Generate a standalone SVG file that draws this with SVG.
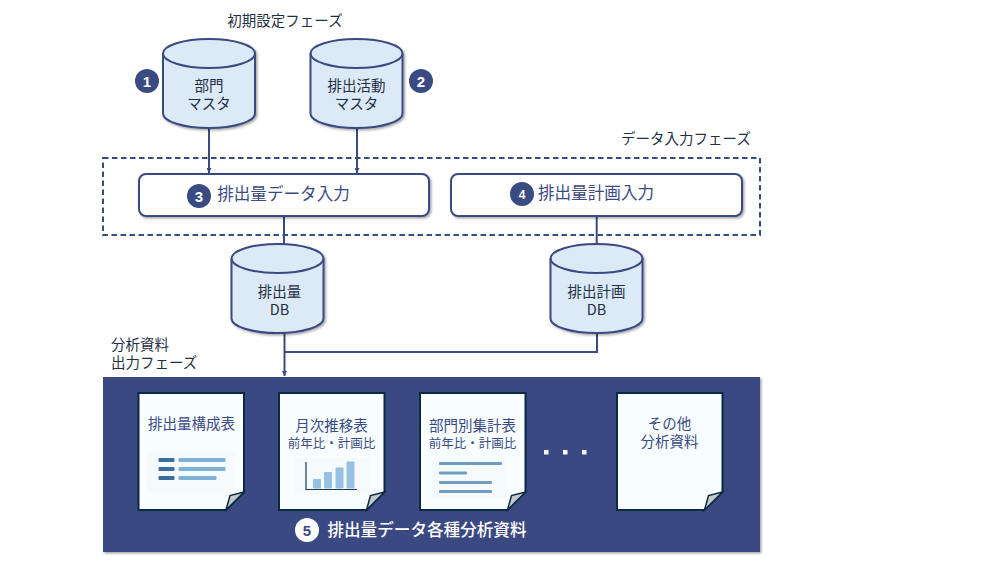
<svg xmlns="http://www.w3.org/2000/svg" width="1000" height="563" viewBox="0 0 1000 563">
<style>
text{font-family:"Noto Sans CJK JP","Liberation Sans",sans-serif;text-anchor:middle}
.t{font-size:14.500px;fill:#1f2f45}
.l{font-size:14.500px;fill:#1f2f45;text-anchor:start}
.b{font-size:16.600px;fill:#3a4a82}
.d{font-size:14.500px;fill:#3a4a82}
.s{font-size:12.500px;fill:#3a4a82}
.n{font-family:"Liberation Sans",sans-serif;font-weight:bold;font-size:15px;fill:#fff}
.cyl{fill:#dce9f6;stroke:#3a4a82;stroke-width:2}
.doc{fill:#f8fdff;stroke:#0b2a3e;stroke-width:2}
.fold{fill:#c3cace;stroke:#0b2a3e;stroke-width:1.500}
.con{fill:none;stroke:#3a4a82;stroke-width:2}
.box{fill:#fff;stroke:#3a4a82;stroke-width:2}
.badge{fill:#3a4a82}
</style>
<defs>
<marker id="ah" markerWidth="6" markerHeight="5" refX="5" refY="2.500" orient="auto" markerUnits="userSpaceOnUse"><path d="M0 0L5 2.500L0 5Z" fill="#3a4a82"/></marker>
<filter id="sh" x="-10%" y="-10%" width="125%" height="130%"><feDropShadow dx="1.500" dy="1.500" stdDeviation="1.200" flood-color="#000" flood-opacity=".35"/></filter>
<path id="cy" d="M-46 -45.500A46 14.500 0 0 1 46 -45.500V14.500A46 14.500 0 0 1 -46 14.500Z"/>
<path id="cyt" d="M-46 -45.500A46 14.500 0 0 0 46 -45.500" fill="none"/>
<path id="pg" d="M0 0H105.500V99L87.500 117H0Z"/>
<path id="pf" d="M105.500 99L91.500 102.500L87.500 117Z"/>
</defs>

<g id="connectors">
<path class="con" d="M209 128V173" marker-end="url(#ah)"/>
<path class="con" d="M357 128V173" marker-end="url(#ah)"/>
<path class="con" d="M284 216V244"/>
<path class="con" d="M596.700 216V244"/>
<path class="con" d="M284.500 333V376" marker-end="url(#ah)"/>
<path class="con" d="M284.500 352H597V333"/>
</g>

<g id="phase-input"><rect x="103" y="158" width="657" height="77" fill="none" stroke="#3a4a82" stroke-width="2" stroke-dasharray="5.500 3.500"/>
<text class="t" x="686" y="144">データ入力フェーズ</text></g>
<g id="phase-initial"><text class="t" x="285" y="25.500">初期設定フェーズ</text></g>
<g id="phase-output"><text class="l" x="111" y="349.500">分析資料<tspan x="111" dy="18">出力フェーズ</tspan></text></g>

<g id="db-dept" transform="translate(209 99)"><use href="#cy" class="cyl" filter="url(#sh)"/><use href="#cyt" stroke="#3a4a82" stroke-width="2"/>
<text class="t" y="-8">部門<tspan x="0" dy="18">マスタ</tspan></text></g>
<g id="db-activity" transform="translate(356.500 99)"><use href="#cy" class="cyl" filter="url(#sh)"/><use href="#cyt" stroke="#3a4a82" stroke-width="2"/>
<text class="t" y="-8">排出活動<tspan x="0" dy="18">マスタ</tspan></text></g>
<g id="badge1"><circle class="badge" cx="147" cy="81" r="12"/><text class="n" x="147" y="86.500">1</text></g>
<g id="badge2"><circle class="badge" cx="421" cy="81" r="12"/><text class="n" x="421" y="86.500">2</text></g>

<g id="input-actual"><rect class="box" x="139" y="174" width="290" height="42" rx="7" filter="url(#sh)"/>
<circle class="badge" cx="199" cy="196" r="12"/><text class="n" x="199" y="201.500">3</text>
<text class="b" x="283.500" y="199.500">排出量データ入力</text></g>
<g id="input-plan"><rect class="box" x="451" y="174" width="291" height="42" rx="7" filter="url(#sh)"/>
<circle class="badge" cx="522" cy="194" r="12"/><text class="n" x="522" y="198.500" style="font-size:12px">4</text>
<text class="b" x="596" y="198.500">排出量計画入力</text></g>

<g id="db-actual" transform="translate(277.500 304)"><use href="#cy" class="cyl" filter="url(#sh)"/><use href="#cyt" stroke="#3a4a82" stroke-width="2"/>
<text class="t" x="2" y="-7">排出量<tspan x="2" dy="18">DB</tspan></text></g>
<g id="db-plan" transform="translate(596.500 304)"><use href="#cy" class="cyl" filter="url(#sh)"/><use href="#cyt" stroke="#3a4a82" stroke-width="2"/>
<text class="t" y="-7">排出計画<tspan x="0" dy="18">DB</tspan></text></g>

<g id="panel"><rect x="103" y="377" width="657" height="175" fill="#3a4a82" filter="url(#sh)"/>
<circle cx="307" cy="530" r="12" fill="#fff"/><text class="n" x="307" y="535.500" style="fill:#3a4a82">5</text>
<text x="427" y="536" style="font-size:16.600px;fill:#fff;font-weight:500">排出量データ各種分析資料</text>
<g fill="#f4f8fc"><rect x="544" y="450" width="4.500" height="4.500"/><rect x="563" y="450" width="4.500" height="4.500"/><rect x="582" y="450" width="4.500" height="4.500"/></g></g>

<g id="doc1" transform="translate(138.500 393)"><use href="#pg" class="doc"/><use href="#pf" class="fold"/>
<text class="d" x="53" y="36">排出量構成表</text>
<rect x="9" y="60" width="87" height="38" fill="#f5fafd"/>
<g fill="#3d6d9c"><rect x="20" y="65" width="16" height="4" rx="1"/><rect x="20" y="74" width="16" height="4" rx="1"/><rect x="20" y="83" width="16" height="4" rx="1"/></g>
<g fill="#7fb0d8"><rect x="40" y="65" width="47" height="4" rx="1"/><rect x="40" y="74" width="47" height="4" rx="1"/><rect x="40" y="83" width="38" height="4" rx="1"/></g></g>

<g id="doc2" transform="translate(279 393)"><use href="#pg" class="doc"/><use href="#pf" class="fold"/>
<text class="d" x="52.500" y="37.500">月次推移表<tspan class="s" x="52.500" dy="17.500">前年比・計画比</tspan></text>
<rect x="15" y="65" width="76" height="37" fill="#f5fafd"/>
<path d="M27 69V96.500H78" fill="none" stroke="#1c3a52" stroke-width="1.200"/>
<g fill="#97c1e2"><rect x="34" y="86" width="8" height="9.500" rx="1"/><rect x="45" y="79" width="8" height="16.500" rx="1"/><rect x="56.500" y="74.500" width="8" height="21" rx="1"/><rect x="67.500" y="68.500" width="8" height="27" rx="1"/></g></g>

<g id="doc3" transform="translate(420 393)"><use href="#pg" class="doc"/><use href="#pf" class="fold"/>
<text class="d" x="52.500" y="37.500">部門別集計表<tspan class="s" x="52.500" dy="17.500">前年比・計画比</tspan></text>
<rect x="12" y="65" width="73" height="40" fill="#f5fafd"/>
<g fill="#6f9cc1"><rect x="19" y="69" width="63" height="3" rx="1"/><rect x="19" y="78.500" width="28" height="3" rx="1"/><rect x="19" y="88" width="53" height="3" rx="1"/><rect x="19" y="97" width="53" height="3" rx="1"/></g></g>

<g id="doc4" transform="translate(617 393)"><use href="#pg" class="doc"/><use href="#pf" class="fold"/>
<text class="d" x="52.500" y="36">その他<tspan x="52.500" dy="18">分析資料</tspan></text></g>
</svg>
